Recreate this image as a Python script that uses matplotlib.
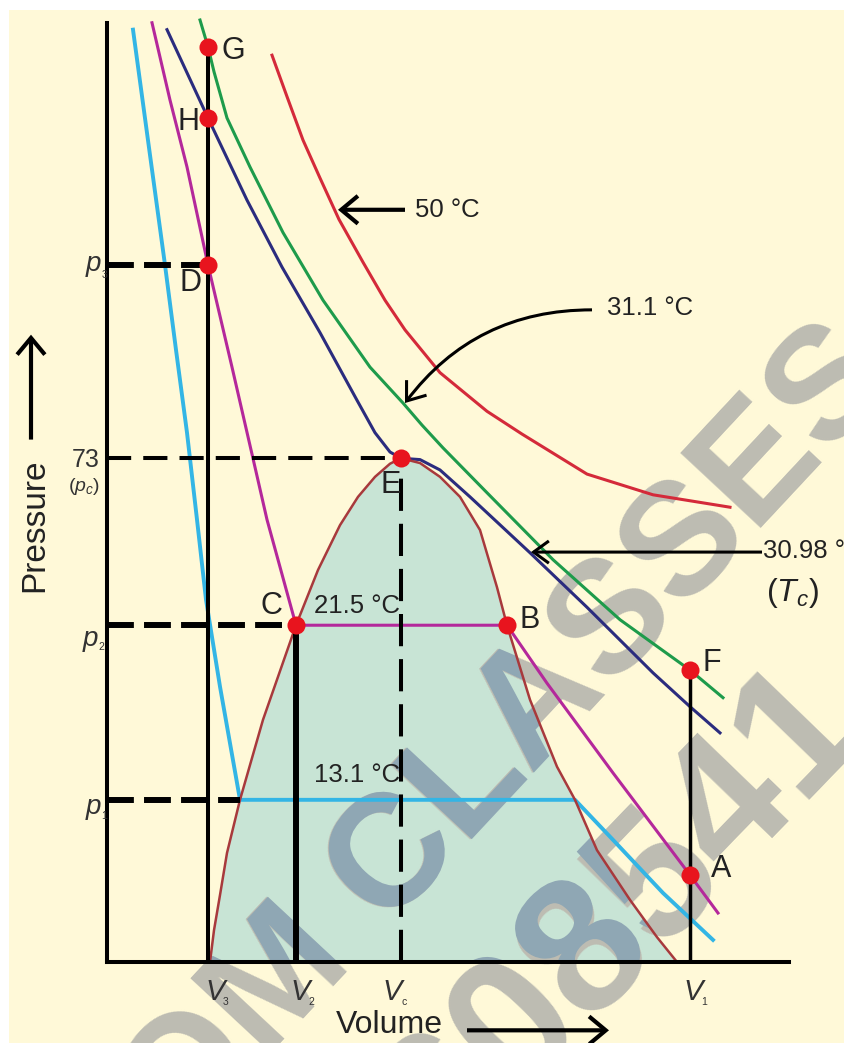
import numpy as np
import matplotlib
matplotlib.use('Agg')
import matplotlib.pyplot as plt
from matplotlib import font_manager
from matplotlib.font_manager import FontProperties
from matplotlib.patches import Polygon, Rectangle, FancyArrowPatch, PathPatch
from matplotlib.textpath import TextPath
from matplotlib.transforms import Affine2D

names = {f.name for f in font_manager.fontManager.ttflist}
SANS = 'Liberation Sans' if 'Liberation Sans' in names else 'DejaVu Sans'
NARROW = 'Liberation Sans Narrow' if 'Liberation Sans Narrow' in names else SANS
plt.rcParams['font.family'] = [SANS, 'DejaVu Sans']
plt.rcParams['mathtext.fontset'] = 'custom'
plt.rcParams['mathtext.it'] = NARROW + ':italic'
plt.rcParams['mathtext.rm'] = NARROW

# ---------------- data (volume: arbitrary units, pressure: atm) ----------------
V3, V2, Vc, V1 = 10.1, 18.9, 29.4, 58.3
p1, p2, pc, p3 = 23.5, 48.8, 73.0, 101.0

iso13_v = [2.6, 4.2, 5.8, 6.9, 8.0, 9.0, 9.9, 11.3, 13.3, 46.8, 50.6, 55.6, 60.6]
iso13_p = [135.1, 118.0, 101.0, 88.7, 76.7, 64.1, 52.5, 39.9, 23.5, 23.5, 17.7, 10.0, 3.2]

iso21_v = [4.5, 6.3, 8.0, 10.1, 12.5, 14.8, 16.0, 18.9, 40.0, 44.0, 50.6, 58.3, 61.1]
iso21_p = [136.1, 124.9, 115.2, 101.0, 86.2, 71.7, 64.1, 48.8, 48.8, 40.4, 27.4, 12.6, 7.1]

isoTc_v = [6.0, 10.1, 14.0, 17.5, 21.3, 25.0, 26.8, 28.3, 29.4, 31.3, 33.3, 36.3, 42.3, 48.0, 54.6, 58.3, 61.3]
isoTc_p = [135.1, 122.3, 110.4, 100.7, 91.2, 81.4, 76.7, 73.9, 73.0, 72.8, 71.3, 67.4, 59.3, 51.4, 41.9, 37.0, 33.2]

iso31_v = [9.3, 10.1, 10.7, 12.0, 14.3, 17.6, 21.6, 26.3, 29.6, 31.5, 33.6, 38.0, 44.6, 51.3, 58.3, 61.6]
iso31_p = [136.5, 132.6, 129.0, 122.3, 115.2, 105.7, 95.9, 86.2, 81.0, 77.8, 74.5, 68.0, 58.3, 49.6, 42.3, 38.3]

iso50_v = [16.5, 18.0, 19.6, 21.3, 23.2, 25.6, 27.8, 29.8, 33.3, 38.0, 41.5, 48.0, 54.6, 62.3]
iso50_p = [131.4, 125.4, 119.1, 113.6, 107.6, 101.4, 95.9, 91.6, 85.4, 79.8, 76.5, 70.7, 67.7, 65.9]

dome_v = [10.3, 10.7, 11.3, 12.0, 13.3, 15.6, 18.9, 21.1, 23.3, 25.1, 26.8, 28.3, 29.4,
          31.3, 33.3, 35.3, 37.3, 39.0, 40.0, 42.3, 45.0, 46.8, 49.0, 52.3, 55.0, 57.0]
dome_p = [0.0, 4.6, 9.7, 15.8, 23.5, 35.1, 48.8, 56.8, 63.3, 67.4, 70.3, 72.2, 73.0,
          72.3, 70.3, 67.4, 62.6, 54.3, 48.8, 38.0, 28.3, 23.5, 16.2, 9.0, 3.6, 0.0]

point_names = ['G', 'H', 'D', 'E', 'C', 'B', 'F', 'A']
point_v = [V3, V3, V3, Vc, V2, 40.0, V1, V1]
point_p = [132.6, 122.3, p3, pc, p2, p2, 42.3, 12.6]

watermark_text = ['OM CLASSES', '608541']

# ---------------- colours ----------------
CREAM = '#FFF9D8'
TEAL = '#C8E4D5'
C13, C21, CTC, C31, C50 = '#33B5E5', '#B4289B', '#2B2C7E', '#1E9B4B', '#D42A3A'
CDOME = '#A8393C'
DOT = '#E8141E'
INK = '#222222'
WM_GRAY, WM_SLATE = '#BDBCB2', '#8FA7B4'

W, H = 844, 1043
fig = plt.figure(figsize=(W / 100, H / 100), dpi=100, facecolor='white')
fig.add_artist(Rectangle((9 / W, 0), 1 - 9 / W, 1 - 10 / H, transform=fig.transFigure,
                         facecolor=CREAM, edgecolor='none', zorder=-10))

ax = fig.add_axes([107 / W, (H - 962) / H, (789 - 107) / W, (962 - 20) / H])
ax.patch.set_visible(False)
ax.set_xlim(0, 68.2)
ax.set_ylim(0, 136.5)
ax.set_autoscale_on(False)
ax.set_xticks([])
ax.set_yticks([])
for s in ('top', 'right'):
    ax.spines[s].set_visible(False)
for s in ('left', 'bottom'):
    ax.spines[s].set_linewidth(2.9)
    ax.spines[s].set_zorder(5)
ax.spines['left'].set_bounds(0, 136.1)

# dome fill + outline
dome = Polygon(list(zip(dome_v, dome_p)), closed=True, facecolor=TEAL, edgecolor='none', zorder=1)
ax.add_patch(dome)
ax.plot(dome_v, dome_p, color=CDOME, lw=1.8, zorder=3.5)

# watermark: real text in gray, with a slate tint where it crosses the dome
renderer = fig.canvas.get_renderer()
wm_layout = [(540, 766, 47, 115), (658, 949, 46, 132)]  # centre (px), angle, size
for txt, (xc, yc, rot, size) in zip(watermark_text, wm_layout):
    fp = FontProperties(family=SANS, weight='bold', size=size)
    w_px, _, _ = renderer.get_text_width_height_descent(txt, fp, ismath=False)
    th = np.deg2rad(rot)
    x0 = xc - w_px / 2 * np.cos(th)
    y0 = (H - yc) - w_px / 2 * np.sin(th)
    ax.text(x0 / W, y0 / H, txt, fontproperties=fp, color=WM_GRAY, rotation=rot,
            rotation_mode='anchor', ha='left', va='baseline', transform=fig.transFigure,
            clip_on=False, zorder=2)
    tp = TextPath((0, 0), txt, prop=fp)
    tr = Affine2D().scale(fig.dpi / 72).rotate_deg(rot).translate(x0, y0)
    tint = PathPatch(tp, transform=tr, facecolor=WM_SLATE, edgecolor='none', zorder=2.1)
    ax.add_patch(tint)
    tint.set_clip_path(dome)

# isotherms
lw = 2.2
ax.plot(iso13_v, iso13_p, color=C13, lw=lw + 0.6, zorder=3, clip_on=False)
ax.plot(iso21_v, iso21_p, color=C21, lw=lw, zorder=3, clip_on=False)
ax.plot(isoTc_v, isoTc_p, color=CTC, lw=lw, zorder=3, clip_on=False)
ax.plot(iso31_v, iso31_p, color=C31, lw=lw, zorder=3, clip_on=False)
ax.plot(iso50_v, iso50_p, color=C50, lw=lw, zorder=3, clip_on=False)

# vertical solid lines
ax.plot([V3, V3], [0, point_p[0]], color='black', lw=2.9, zorder=4, solid_capstyle='butt')
ax.plot([V2, V2], [0, p2], color='black', lw=4.3, zorder=4, solid_capstyle='butt')
ax.plot([V1, V1], [0, point_p[6]], color='black', lw=2.5, zorder=4, solid_capstyle='butt')
# dashed guides
ax.plot([0, Vc], [pc, pc], color='black', lw=2.9, dashes=(6.0, 3.0), zorder=4)
ax.plot([Vc, Vc], [0, pc], color='black', lw=2.9, dashes=(8.0, 3.2), zorder=4)
ax.plot([0, V3], [p3, p3], color='black', lw=4.3, dashes=(4.5, 1.7), zorder=4)
ax.plot([0, V2], [p2, p2], color='black', lw=4.3, dashes=(4.5, 1.7), zorder=4)
ax.plot([0, iso13_v[8]], [p1, p1], color='black', lw=4.3, dashes=(4.5, 1.7), zorder=4)

# points
ax.plot(point_v, point_p, 'o', ms=13, color=DOT, mec='none', zorder=6, clip_on=False)
lab_pos = {'G': (12.6, 132.0), 'H': (8.1, 121.7), 'D': (8.3, 98.4), 'E': (28.4, 69.1),
           'C': (16.4, 51.6), 'B': (42.3, 49.6), 'F': (60.5, 43.3), 'A': (61.4, 13.5)}
for n in point_names:
    x, y = lab_pos[n]
    ax.text(x, y, n, fontsize=22, ha='center', va='center', color=INK, zorder=7)

# isotherm labels & arrows
tl = dict(family=NARROW, fontsize=18.5, color=INK, zorder=7, clip_on=False)
ax.text(25.0, 51.6, '21.5 °C', ha='center', va='center', **tl)
ax.text(25.0, 27.1, '13.1 °C', ha='center', va='center', **tl)
ax.text(30.8, 109.0, '50 °C', ha='left', va='center', **tl)
ax.text(50.0, 94.8, '31.1 °C', ha='left', va='center', **tl)
ax.text(65.6, 59.6, '30.98 °C', ha='left', va='center', **tl)
ax.text(68.6, 53.4, r'$(T_c)$', ha='center', va='center', fontsize=23, color=INK,
        clip_on=False, zorder=7)

def arrow(xy_from, xy_to, lw_, hl, hw, rad=0.0, ms=20):
    a = FancyArrowPatch(xy_from, xy_to, arrowstyle=f'->,head_length={hl},head_width={hw}',
                        connectionstyle=f'arc3,rad={rad}', mutation_scale=ms, lw=lw_,
                        color='black', zorder=7, clip_on=False, shrinkA=0, shrinkB=0,
                        capstyle='butt', joinstyle='miter')
    ax.add_patch(a)

arrow((29.8, 109.0), (23.1, 109.0), 3.0, 0.6, 0.5)
arrow((48.5, 94.5), (29.8, 81.0), 2.2, 0.6, 0.45, rad=0.25)
arrow((65.5, 59.4), (42.4, 59.4), 2.2, 0.55, 0.4)

# axis titles and arrows
ax.text(-7.2, 63.3, 'Pressure', rotation=90, fontsize=24, ha='center', va='center',
        color=INK, clip_on=False)
arrow((-7.6, 75.7), (-7.6, 90.9), 3.0, 0.6, 0.5)
ax.text(28.2, -9.1, 'Volume', fontsize=23, ha='center', va='center', color=INK,
        clip_on=False)
arrow((36.0, -9.9), (50.2, -9.9), 3.0, 0.6, 0.5)

# tick-like labels
ital = dict(family=NARROW, style='italic', color='#333333', clip_on=False, zorder=7)
subs = dict(family=NARROW, color='#333333', clip_on=False, zorder=7, fontsize=7.5)
for main_x, main_y, sub_x, sub_y, sub in [(-0.6, 100.1, -0.55, 99.1, '3'),
                                          (-0.9, 45.8, -0.9, 45.2, '2'),
                                          (-0.6, 21.4, -0.6, 20.7, '1')]:
    ax.text(main_x, main_y, 'p', fontsize=20, ha='right', va='baseline', **ital)
    ax.text(sub_x, sub_y, sub, ha='left', va='baseline', **subs)
ax.text(-0.7, 71.7, '73', fontsize=18, ha='right', va='baseline', family=NARROW,
        color='#333333', clip_on=False)
ax.text(-0.7, 68.3, r'$(p_c)$', fontsize=14, ha='right', va='baseline', color='#333333',
        clip_on=False)
for vx, sx, sub in [(10.8, 11.6, '3'), (19.3, 20.1, '2'), (28.5, 29.4, 'c'), (58.6, 59.4, '1')]:
    ax.text(vx, -5.5, 'V', fontsize=21, ha='center', va='baseline', **ital)
    ax.text(sx, -6.3, sub, ha='left', va='baseline', **subs)

fig.savefig('out.png', dpi=100, facecolor='white')
